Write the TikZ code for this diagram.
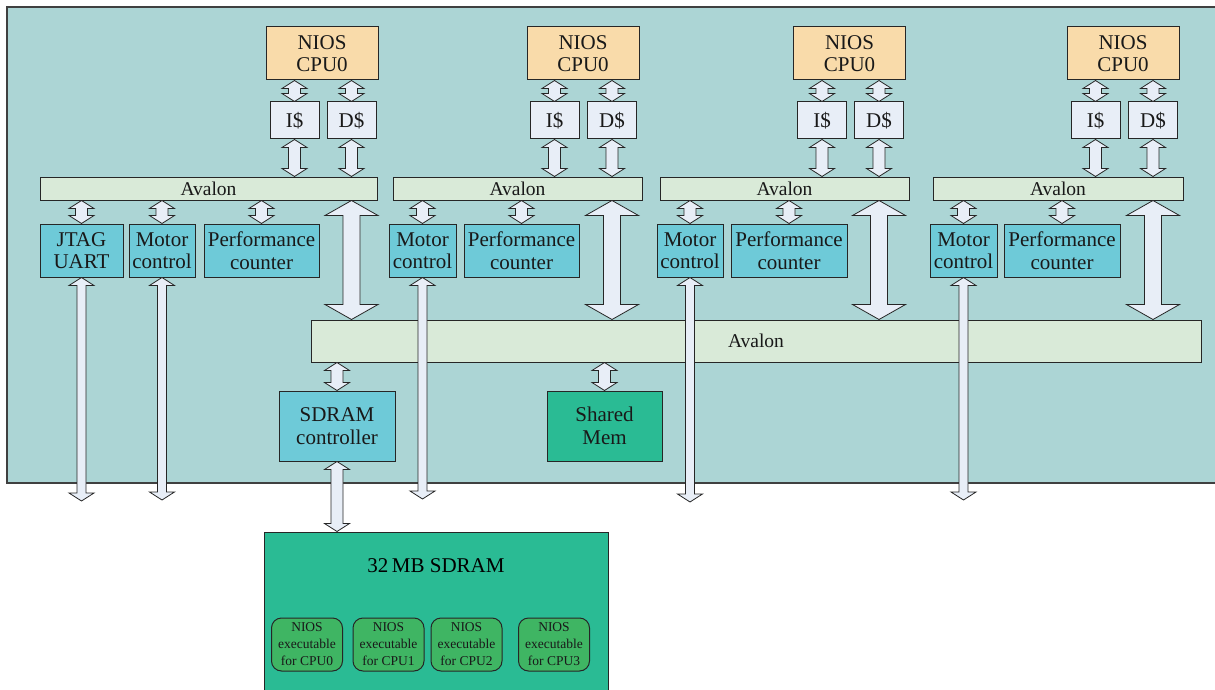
\documentclass[tikz,border=0pt]{standalone}
\usepackage{fontspec}
\setmainfont{Liberation Serif}
\usetikzlibrary{positioning,calc}

\definecolor{boardbg}{HTML}{ACD5D5}
\definecolor{cpufill}{HTML}{F9DBAA}
\definecolor{cachefill}{HTML}{E8EEF7}
\definecolor{busfill}{HTML}{D9EAD8}
\definecolor{perifill}{HTML}{6ECAD8}
\definecolor{memfill}{HTML}{2ABB94}
\definecolor{exefill}{HTML}{3FB563}

\tikzset{
  blk/.style={draw=black!85, line width=1pt, inner sep=0pt, align=center,
    text=black!90, font=\fontsize{21}{22.5}\selectfont},
  cpubox/.style={blk, fill=cpufill, minimum width=112pt, minimum height=53pt},
  cachebox/.style={blk, fill=cachefill, minimum width=49pt, minimum height=37pt},
  busbar/.style={blk, fill=busfill, minimum height=23pt, font=\fontsize{19.5}{21}\selectfont},
  peribox/.style={blk, fill=perifill, minimum height=53pt},
  membox/.style={blk, fill=memfill},
  exebox/.style={blk, fill=exefill, rounded corners=10pt, minimum width=71pt,
    minimum height=53pt, font=\fontsize{13.5}{17}\selectfont},
  linkarrow/.style={draw=black!85, line width=0.8pt, fill=cachefill, line join=miter}
}

% outlined two-headed arrow: top point, bottom point, shaft half, head half, head length
\newcommand{\fatlink}[5]{%
  \draw[linkarrow] let \p1=(#1), \p2=(#2) in
    (\x1,\y1) -- (\x1+#4,\y1-#5) -- (\x1+#3,\y1-#5) -- (\x1+#3,\y2+#5)
    -- (\x1+#4,\y2+#5) -- (\x1,\y2) -- (\x1-#4,\y2+#5) -- (\x1-#3,\y2+#5)
    -- (\x1-#3,\y1-#5) -- (\x1-#4,\y1-#5) -- cycle;}
\newcommand{\smalllink}[2]{\fatlink{#1}{#2}{6pt}{12.5pt}{8pt}}
\newcommand{\thinlink}[2]{\fatlink{#1}{#2}{4.5pt}{12.5pt}{8pt}}
\newcommand{\biglink}[2]{\fatlink{#1}{#2}{8.5pt}{26.5pt}{15pt}}

\begin{document}
\begin{tikzpicture}[x=1pt,y=-1pt]
\clip (0,0) rectangle (1215,690);
\useasboundingbox (0,0) rectangle (1215,690);

% FPGA board
\draw[draw=black!75, line width=1.5pt, fill=boardbg] (7,7) rectangle (1225,483);

% first processor
\node (cpuA) [cpubox] at (322,53.5) {NIOS\\CPU0};
\node (icA) [cachebox] at (294.5,120.5) {I\$};
\node (dcA) [cachebox] at (351.5,120.5) {D\$};
\node (avA) [busbar, minimum width=337pt] at (208.5,188.5) {Avalon};
\node (jtag) [peribox, minimum width=83pt] at (81.5,250.5) {JTAG\\UART};
\node (mcA) [peribox, minimum width=66pt] at (162,250.5) {Motor\\control};
\node (pcA) [peribox, minimum width=115pt] at (261.5,250.5) {Performance\\counter};

% second processor
\node (cpuB) [cpubox] at (583,53.5) {NIOS\\CPU0};
\node (icB) [cachebox] at (554.5,120.5) {I\$};
\node (dcB) [cachebox] at (612,120.5) {D\$};
\node (avB) [busbar, minimum width=249pt] at (517.5,188.5) {Avalon};
\node (mcB) [peribox, minimum width=67pt] at (422.5,250.5) {Motor\\control};
\node (pcB) [peribox, minimum width=115pt] at (521.5,250.5) {Performance\\counter};

% third processor
\node (cpuC) [cpubox] at (849.5,53.5) {NIOS\\CPU0};
\node (icC) [cachebox] at (822,120.5) {I\$};
\node (dcC) [cachebox] at (879,120.5) {D\$};
\node (avC) [busbar, minimum width=249pt] at (784.5,188.5) {Avalon};
\node (mcC) [peribox, minimum width=66pt] at (690,250.5) {Motor\\control};
\node (pcC) [peribox, minimum width=116pt] at (789,250.5) {Performance\\counter};

% fourth processor
\node (cpuD) [cpubox] at (1123,53.5) {NIOS\\CPU0};
\node (icD) [cachebox] at (1095.5,120.5) {I\$};
\node (dcD) [cachebox] at (1153,120.5) {D\$};
\node (avD) [busbar, minimum width=250pt] at (1058,188.5) {Avalon};
\node (mcD) [peribox, minimum width=67pt] at (963.5,250.5) {Motor\\control};
\node (pcD) [peribox, minimum width=116pt] at (1062,250.5) {Performance\\counter};

% shared bus and memories
\node (avbus) [busbar, minimum width=890pt, minimum height=42pt] at (756,341) {Avalon};
\node (sdctl) [membox, fill=perifill, minimum width=116pt, minimum height=70pt] at (337,426) {SDRAM\\controller};
\node (shmem) [membox, minimum width=115pt, minimum height=70pt] at (604.5,426) {Shared\\Mem};
\node (sdram) [membox, minimum width=344pt, minimum height=168pt] at (436,616) {};
\node (sdramlbl) [below=24pt of sdram.north, font=\fontsize{21}{22}\selectfont] {32\,MB SDRAM};
\node (exe0) [exebox] at (307,644.5) {NIOS\\executable\\for CPU0};
\node (exe1) [exebox] at (388.5,644.5) {NIOS\\executable\\for CPU1};
\node (exe2) [exebox] at (466.5,644.5) {NIOS\\executable\\for CPU2};
\node (exe3) [exebox] at (554,644.5) {NIOS\\executable\\for CPU3};

% pins leaving the chip
\coordinate (jtagout) at (jtag.south |- 0,501);
\coordinate (mcAout) at (mcA.south |- 0,500);
\coordinate (mcBout) at (mcB.south |- 0,499);
\coordinate (mcCout) at (mcC.south |- 0,502);
\coordinate (mcDout) at (mcD.south |- 0,500);

% CPU <-> caches <-> local bus
\smalllink{cpuA.south -| icA}{icA.north}
\smalllink{cpuA.south -| dcA}{dcA.north}
\smalllink{icA.south}{avA.north -| icA}
\smalllink{dcA.south}{avA.north -| dcA}
\smalllink{cpuB.south -| icB}{icB.north}
\smalllink{cpuB.south -| dcB}{dcB.north}
\smalllink{icB.south}{avB.north -| icB}
\smalllink{dcB.south}{avB.north -| dcB}
\smalllink{cpuC.south -| icC}{icC.north}
\smalllink{cpuC.south -| dcC}{dcC.north}
\smalllink{icC.south}{avC.north -| icC}
\smalllink{dcC.south}{avC.north -| dcC}
\smalllink{cpuD.south -| icD}{icD.north}
\smalllink{cpuD.south -| dcD}{dcD.north}
\smalllink{icD.south}{avD.north -| icD}
\smalllink{dcD.south}{avD.north -| dcD}

% local bus <-> peripherals
\smalllink{avA.south -| jtag}{jtag.north}
\smalllink{avA.south -| mcA}{mcA.north}
\smalllink{avA.south -| pcA}{pcA.north}
\smalllink{avB.south -| mcB}{mcB.north}
\smalllink{avB.south -| pcB}{pcB.north}
\smalllink{avC.south -| mcC}{mcC.north}
\smalllink{avC.south -| pcC}{pcC.north}
\smalllink{avD.south -| mcD}{mcD.north}
\smalllink{avD.south -| pcD}{pcD.north}

% local bus <-> shared bus
\biglink{avA.south -| dcA}{avbus.north -| dcA}
\biglink{avB.south -| dcB}{avbus.north -| dcB}
\biglink{avC.south -| dcC}{avbus.north -| dcC}
\biglink{avD.south -| dcD}{avbus.north -| dcD}

% shared bus <-> memories
\smalllink{avbus.south -| sdctl}{sdctl.north}
\smalllink{avbus.south -| shmem}{shmem.north}
\smalllink{sdctl.south}{sdram.north -| sdctl}

% off-chip lines
\thinlink{jtag.south}{jtagout}
\thinlink{mcA.south}{mcAout}
\thinlink{mcB.south}{mcBout}
\thinlink{mcC.south}{mcCout}
\thinlink{mcD.south}{mcDout}
\end{tikzpicture}
\end{document}
